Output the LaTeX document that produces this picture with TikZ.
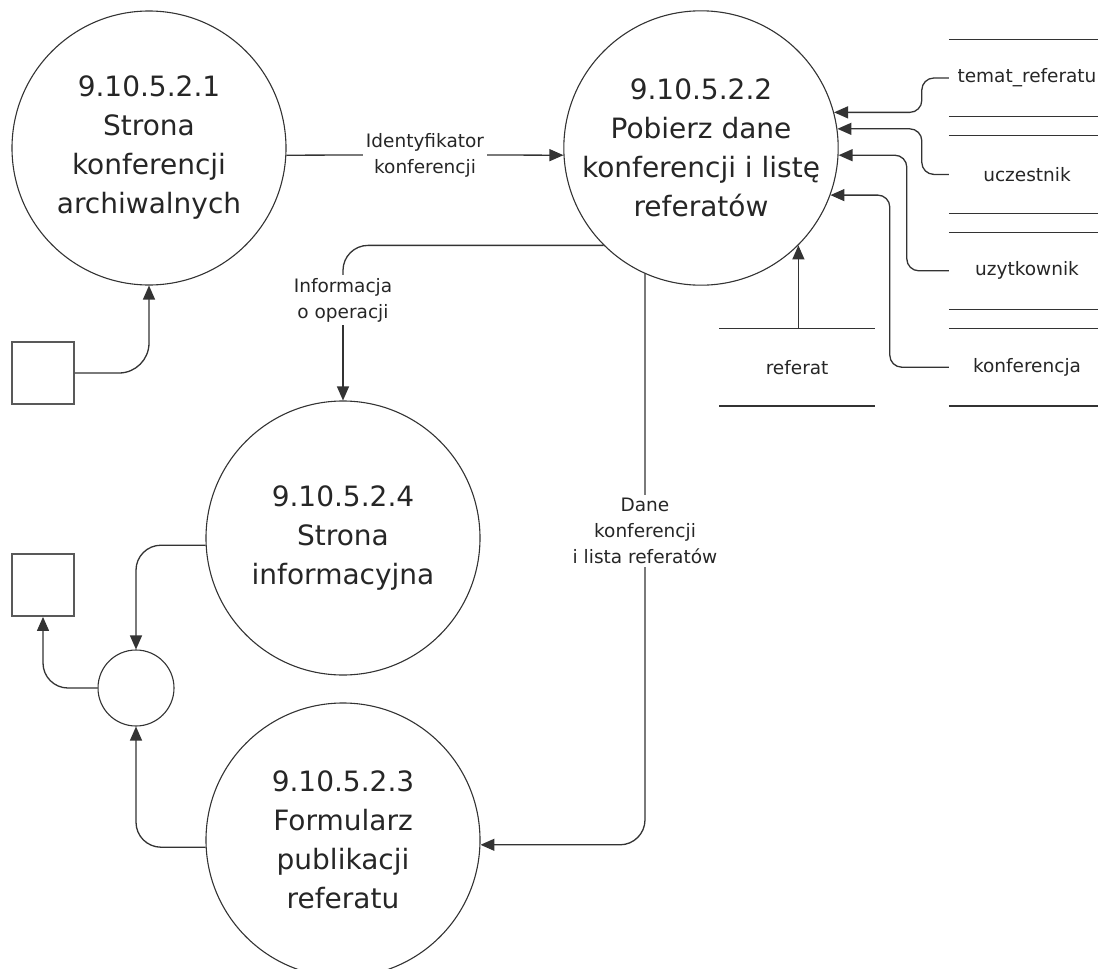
\documentclass[tikz,border=0pt]{standalone}
\usepackage{fontspec}
\setmainfont{DejaVu Sans}
\setsansfont{DejaVu Sans}
\usetikzlibrary{positioning, arrows.meta, calc}

\begin{document}
\begin{tikzpicture}[
  x=1pt, y=-1pt,
  font=\sffamily,
  % Style procesow, terminatorow i magazynow
  proc/.style={draw=black!80, circle, line width=1.1pt, minimum size=274pt, inner sep=0pt, align=center, text=black!85, font=\sffamily\fontsize{28}{39}\selectfont},
  ext/.style={draw=black!65, rectangle, line width=1.8pt, minimum size=62pt, inner sep=0pt},
  junc/.style={draw=black!80, circle, line width=1.1pt, minimum size=76pt, inner sep=0pt},
  lbl/.style={align=center, inner sep=3pt, text=black!85, font=\sffamily\fontsize{18.5}{26}\selectfont},
  storeedge/.style={draw=black!80, line width=1.2pt},
  store/.style={lbl, minimum width=156pt, minimum height=77pt, inner sep=0pt,
    append after command={(\tikzlastnode.north west) edge[storeedge] (\tikzlastnode.north east)
      (\tikzlastnode.south west) edge[storeedge] (\tikzlastnode.south east)}},
  % Style strzalek
  line/.style={draw=black!80, line width=1.3pt},
  flow/.style={line, -{Triangle[length=14pt, width=12pt]}}
]
  \useasboundingbox (0,0) rectangle (1098,969);

  % ==========================================
  % PROCESY
  % ==========================================
  \node[proc] (c1) at (149,148) {9.10.5.2.1\\Strona\\konferencji\\archiwalnych};
  \node[proc] (c2) at (701,148) {9.10.5.2.2\\Pobierz dane\\konferencji i listę\\referatów};
  \node[proc] (c4) at (343,538) {9.10.5.2.4\\Strona\\informacyjna};
  \node[proc] (c3) at (343,840) {9.10.5.2.3\\Formularz\\publikacji\\referatu};

  % --- terminatory i zlacze ---
  \node[ext] (sq1) at (43,373) {};
  \node[ext] (sq2) at (43,585) {};
  \node[junc] (jn) at (136,688) {};

  % ==========================================
  % MAGAZYNY DANYCH
  % ==========================================
  \node[store] (tem) at (1027,78) {temat\_referatu};
  \node[store, below=19pt of tem] (ucz) {uczestnik};
  \node[store, below=19pt of ucz] (uzy) {uzytkownik};
  \node[store, below=19pt of uzy] (kon) {konferencja};
  \node[store, minimum width=155pt, left=74pt of kon] (ref) {referat};

  % --- etykiety przeplywow ---
  \node[lbl] (idf) at (425,155) {Identyfikator\\konferencji};
  \node[lbl] (info) at (343,300) {Informacja\\o operacji};
  \node[lbl] (dane) at (645,531) {Dane\\konferencji\\i lista referatów};

  % ==========================================
  % PRZEPLYWY
  % ==========================================
  \draw[line] (c1.-3) -- (idf.west);
  \draw[flow] (idf.east) -- (c2.183);
  \draw[line, rounded corners=25pt] (c2.225) -| (info.north);
  \draw[flow] (info.south) -- (info.south |- c4.north);
  \draw[line] (c2.246) -- (dane.north);
  \draw[flow, rounded corners=25pt] (dane.south) |- (c3.-2);
  \draw[flow, rounded corners=30pt] (sq1.east) -| (c1.south);
  \draw[flow, rounded corners=25pt] (c4.183) -| (jn.north);
  \draw[flow, rounded corners=25pt] (c3.183) -| (jn.south);
  \draw[flow, rounded corners=25pt] (jn.west) -| (sq2.south);

  % --- z magazynow ---
  \draw[flow] (c2.-45 |- ref.north) -- (c2.-45);
  \draw[flow, rounded corners=12pt] (tem.west) -- ++(-27,0) |- (c2.15);
  \draw[flow, rounded corners=12pt] (ucz.west) -- ++(-27,0) |- (c2.8);
  \draw[flow, rounded corners=12pt] (uzy.west) -- ++(-42,0) |- (c2.-3);
  \draw[flow, rounded corners=12pt] (kon.west) -- ++(-59,0) |- (c2.-20);

\end{tikzpicture}
\end{document}
